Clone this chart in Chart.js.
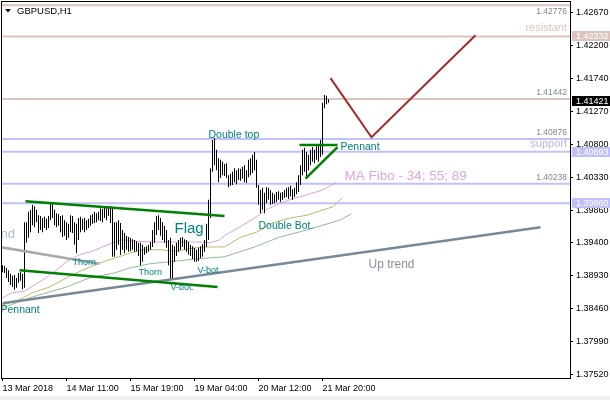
<!DOCTYPE html>
<html>
<head>
<meta charset="utf-8">
<script src="https://cdn.jsdelivr.net/npm/chart.js@4.4.1/dist/chart.umd.min.js"></script>
<style>
html, body { margin: 0; padding: 0; background: #f0f0f0; }
canvas { display: block; background: #fff; }
</style>
</head>
<body>
<canvas id="chart" width="610" height="396"></canvas>
<script>
// GBPUSD H1 bars, one per hour, high / low
const highs = [
  1.3908, 1.3907, 1.3904, 1.3901, 1.3896, 1.3893, 1.3894, 1.3890, 1.3897, 1.3898,
  1.3896, 1.3969, 1.3969, 1.3984, 1.3987, 1.3994, 1.3992, 1.3987, 1.3979, 1.3978,
  1.3975, 1.3977, 1.3974, 1.3978, 1.3995, 1.3996, 1.3987, 1.3982, 1.3981, 1.3978,
  1.3979, 1.3972, 1.3969, 1.3967, 1.3979, 1.3978, 1.3969, 1.3967, 1.3975, 1.3977,
  1.3974, 1.3975, 1.3972, 1.3974, 1.3979, 1.3981, 1.3984, 1.3982, 1.3984, 1.3989,
  1.3988, 1.3991, 1.3989, 1.3991, 1.3992, 1.3989, 1.3969, 1.3969, 1.3972, 1.3968,
  1.3958, 1.3954, 1.3950, 1.3948, 1.3947, 1.3945, 1.3944, 1.3942, 1.3940, 1.3940,
  1.3937, 1.3934, 1.3935, 1.3937, 1.3941, 1.3958, 1.3969, 1.3978, 1.3979, 1.3975,
  1.3969, 1.3964, 1.3958, 1.3944, 1.3947, 1.3937, 1.3935, 1.3940, 1.3944, 1.3947,
  1.3948, 1.3945, 1.3944, 1.3941, 1.3937, 1.3935, 1.3933, 1.3930, 1.3933, 1.3935,
  1.3938, 1.3944, 1.3967, 1.4001, 1.4046, 1.4086, 1.4089, 1.4072, 1.4060, 1.4058,
  1.4055, 1.4052, 1.4053, 1.4036, 1.4038, 1.4041, 1.4046, 1.4043, 1.4046, 1.4045,
  1.4048, 1.4050, 1.4043, 1.4058, 1.4060, 1.4065, 1.4069, 1.4058, 1.4022, 1.4015,
  1.4018, 1.4011, 1.4019, 1.4018, 1.4015, 1.4011, 1.4009, 1.4012, 1.4013, 1.4011,
  1.4012, 1.4015, 1.4018, 1.4019, 1.4021, 1.4016, 1.4018, 1.4026, 1.4036, 1.4050,
  1.4072, 1.4075, 1.4069, 1.4065, 1.4072, 1.4076, 1.4072, 1.4077, 1.4079, 1.4086,
  1.4139, 1.4150, 1.4149, 1.4144
];
const lows = [
  1.3898, 1.3897, 1.3890, 1.3884, 1.3880, 1.3877, 1.3873, 1.3876, 1.3883, 1.3886,
  1.3874, 1.3876, 1.3940, 1.3947, 1.3955, 1.3965, 1.3962, 1.3969, 1.3954, 1.3958,
  1.3955, 1.3961, 1.3958, 1.3961, 1.3972, 1.3975, 1.3965, 1.3962, 1.3964, 1.3955,
  1.3948, 1.3950, 1.3944, 1.3947, 1.3955, 1.3954, 1.3937, 1.3925, 1.3944, 1.3955,
  1.3958, 1.3955, 1.3958, 1.3961, 1.3964, 1.3967, 1.3968, 1.3969, 1.3972, 1.3971,
  1.3969, 1.3975, 1.3972, 1.3978, 1.3968, 1.3920, 1.3920, 1.3930, 1.3937, 1.3923,
  1.3930, 1.3925, 1.3930, 1.3927, 1.3928, 1.3930, 1.3927, 1.3928, 1.3921, 1.3908,
  1.3913, 1.3923, 1.3925, 1.3927, 1.3930, 1.3934, 1.3940, 1.3951, 1.3958, 1.3950,
  1.3944, 1.3940, 1.3933, 1.3908, 1.3887, 1.3888, 1.3913, 1.3921, 1.3927, 1.3930,
  1.3934, 1.3930, 1.3927, 1.3923, 1.3921, 1.3917, 1.3913, 1.3913, 1.3914, 1.3918,
  1.3920, 1.3927, 1.3934, 1.3944, 1.3975, 1.4041, 1.4050, 1.4043, 1.4026, 1.4032,
  1.4036, 1.4035, 1.4032, 1.4019, 1.4021, 1.4022, 1.4026, 1.4023, 1.4029, 1.4028,
  1.4031, 1.4026, 1.4025, 1.4033, 1.4036, 1.4039, 1.4043, 1.4018, 1.3994, 1.3982,
  1.3987, 1.3982, 1.3996, 1.4001, 1.3994, 1.3995, 1.3996, 1.3998, 1.4001, 1.3998,
  1.4001, 1.4004, 1.4005, 1.4002, 1.4006, 1.4001, 1.4005, 1.4009, 1.4012, 1.4022,
  1.4036, 1.4041, 1.4033, 1.4043, 1.4050, 1.4055, 1.4053, 1.4058, 1.4055, 1.4062,
  1.4065, 1.4131, 1.4137, 1.4139
];
const lastPrice = 1.41421;

// time axis
const xTickIdx = [0, 32, 64, 96, 128, 160];
const xTickLabels = ['13 Mar 2018', '14 Mar 11:00', '15 Mar 19:00', '19 Mar 04:00', '20 Mar 12:00', '21 Mar 20:00'];
const yTicks = [1.42670, 1.42200, 1.41740, 1.41270, 1.40800, 1.40330, 1.39860, 1.39400, 1.38930, 1.38460, 1.37990, 1.37520];

// MA Fibo 34 / 55 / 89
const ma34Idx = [-0.5, 5, 11, 20, 27, 32, 38.5, 45, 50, 56, 60, 67, 77, 87, 97, 103.5, 108.5, 111, 118.5, 127, 132, 137, 143.5, 152, 160, 167];
const ma34 = [1.3861, 1.3869, 1.3871, 1.3887, 1.3901, 1.3913, 1.3923, 1.3928, 1.3934, 1.3941, 1.3944, 1.3942, 1.3941, 1.3941, 1.3941, 1.3940, 1.3944, 1.3950, 1.3962, 1.3977, 1.3987, 1.3994, 1.4001, 1.4008, 1.4015, 1.4026];
const ma55Idx = [-0.5, 8.5, 15, 23.5, 32, 40, 48.5, 56, 63.5, 70, 78.5, 87, 97, 103.5, 111, 118.5, 127, 135, 143.5, 152, 165, 170];
const ma55 = [1.3851, 1.3859, 1.3869, 1.3877, 1.3890, 1.3901, 1.3911, 1.3918, 1.3925, 1.3930, 1.3930, 1.3928, 1.3933, 1.3934, 1.3934, 1.3947, 1.3955, 1.3968, 1.3975, 1.3979, 1.3991, 1.4004];
const ma89Idx = [-0.5, 15, 32, 43.5, 56, 63.5, 73.5, 87, 97, 111, 126, 138.5, 152, 168.5, 174.5];
const ma89 = [1.3847, 1.3863, 1.3877, 1.3890, 1.3897, 1.3904, 1.3910, 1.3914, 1.3917, 1.3920, 1.3934, 1.3948, 1.3958, 1.3972, 1.3981];

// horizontal levels
const levelValues = [1.42776, 1.42332, 1.41442, 1.40876, 1.40693, 1.40238, 1.39960];
const levelKinds = ['res', 'res', 'res', 'sup', 'sup', 'sup', 'sup'];
const levelLabels = ['1.42776', 'resistant', '1.41442', '1.40876', 'support', '1.40238', ''];
const axisMarks = [1.42332, 1.40693, 1.39960];

// drawn trend lines
const upTrendIdx = [0, 269];
const upTrend = [1.3854, 1.3962];
const oldTrendIdx = [-1.5, 48.5];
const oldTrend = [1.3934, 1.3910];
const flagTopIdx = [11.5, 111];
const flagTop = [1.3999, 1.3978];
const flagBotIdx = [8.5, 107.5];
const flagBot = [1.3901, 1.3877];
const pennTopIdx = [148.5, 167.5];
const pennTop = [1.4079, 1.4079];
const pennBotIdx = [151.5, 167.5];
const pennBot = [1.4031, 1.4076];
const forecastIdx = [164, 184.5, 236.5];
const forecast = [1.4174, 1.4090, 1.4235];

// text notes on the chart
const notes = [
  { text: 'Double top', i: 103, p: 1.4089, size: 10.5 },
  { text: 'Double Bot.', i: 128, p: 1.3960, size: 10.5 },
  { text: 'Thorn', i: 35, p: 1.3908, size: 9 },
  { text: 'Thorn', i: 68, p: 1.3894, size: 9 },
  { text: 'V-bot.', i: 84, p: 1.3873, size: 9 },
  { text: 'V-bot.', i: 97.5, p: 1.3897, size: 9 },
  { text: 'Flag', i: 86, p: 1.3954, size: 15 },
  { text: 'Pennant', i: 169, p: 1.4072, size: 10.5 },
  { text: 'Pennant', i: -1, p: 1.3840, size: 10.5 },
  { text: 'Up trend', i: 183, p: 1.3904, size: 12, color: '#8391a0' },
  { text: 'MA Fibo - 34; 55; 89', i: 171, p: 1.4029, size: 13.5, color: '#e0a6e0' },
  { text: 'nd', i: -1, p: 1.3947, size: 13, color: '#aab9dc' }
];

const RES = '#dcc4be';
const SUP = '#c0c0fc';
const FONT = '"Liberation Sans", Arial, sans-serif';

function pts(xs, ys) {
  return xs.map((x, k) => ({ x: x, y: ys[k] }));
}
function line(xs, ys, color, width, order) {
  return {
    type: 'line', data: pts(xs, ys), borderColor: color, borderWidth: width,
    pointRadius: 0, fill: false, tension: 0, order: order
  };
}

const datasets = [];
levelValues.forEach((v, k) => {
  datasets.push(line([-1, 290], [v, v], levelKinds[k] === 'res' ? RES : SUP, 2, 20));
});
datasets.push(line(ma89Idx, ma89, '#8fbc8f', 1, 15));
datasets.push(line(ma55Idx, ma55, '#bdb76b', 1, 14));
datasets.push(line(ma34Idx, ma34, '#dda0dd', 1, 13));
datasets.push({
  type: 'bar',
  data: highs.map((h, k) => ({ x: k, y: [lows[k], h] })),
  backgroundColor: '#000',
  borderWidth: 0,
  barThickness: 1,
  inflateAmount: 0,
  grouped: false,
  order: 10
});
datasets.push(line(oldTrendIdx, oldTrend, '#a9a9a9', 2.5, 5));
datasets.push(line(upTrendIdx, upTrend, '#778899', 2.5, 5));
datasets.push(line(flagTopIdx, flagTop, '#008000', 2.5, 4));
datasets.push(line(flagBotIdx, flagBot, '#008000', 2.5, 4));
datasets.push(line(pennTopIdx, pennTop, '#008000', 2.5, 4));
datasets.push(line(pennBotIdx, pennBot, '#008000', 2.5, 4));
datasets.push(line(forecastIdx, forecast, '#a52a2a', 2, 3));

const decorations = {
  id: 'decorations',
  afterDatasetsDraw(chart) {
    const ctx = chart.ctx;
    const a = chart.chartArea;
    const x = chart.scales.x;
    const y = chart.scales.y;
    ctx.save();
    // level captions
    ctx.textAlign = 'right';
    ctx.textBaseline = 'alphabetic';
    levelValues.forEach((v, k) => {
      const txt = levelLabels[k];
      if (!txt) return;
      const py = y.getPixelForValue(v);
      if (txt === v.toFixed(5)) {
        ctx.font = '8.5px ' + FONT;
        ctx.fillStyle = '#7d8893';
        const by = py - 12 < a.top ? py + 9 : py - 4;
        ctx.fillText(txt, a.right - 3, by);
      } else {
        ctx.font = '11px ' + FONT;
        ctx.fillStyle = levelKinds[k] === 'res' ? RES : '#b4b4f0';
        ctx.fillText(txt, a.right - 3, py - 5);
      }
    });
    // pattern notes
    ctx.textAlign = 'left';
    notes.forEach(n => {
      ctx.font = n.size + 'px ' + FONT;
      ctx.fillStyle = n.color || '#008080';
      ctx.fillText(n.text, x.getPixelForValue(n.i), y.getPixelForValue(n.p));
    });
    // frame
    ctx.strokeStyle = '#000';
    ctx.lineWidth = 1;
    ctx.strokeRect(a.left - 0.5, a.top - 0.5, a.right - a.left + 1, a.bottom - a.top + 1);
    ctx.restore();
  },
  afterDraw(chart) {
    const ctx = chart.ctx;
    const y = chart.scales.y;
    ctx.save();
    ctx.font = '9px ' + FONT;
    ctx.textAlign = 'left';
    ctx.textBaseline = 'middle';
    const box = (v, bg) => {
      const py = Math.round(y.getPixelForValue(v));
      ctx.fillStyle = bg;
      ctx.fillRect(y.left + 2, py - 5, chart.width - y.left - 2, 10);
      ctx.fillStyle = '#fff';
      ctx.fillText(v.toFixed(5), y.left + 6, py + 0.5);
    };
    axisMarks.forEach(v => box(v, levelValues.indexOf(v) < 3 ? RES : SUP));
    box(lastPrice, '#000');
    // symbol caption
    ctx.fillStyle = '#000';
    ctx.beginPath();
    ctx.moveTo(5, 9); ctx.lineTo(11, 9); ctx.lineTo(8, 12.5); ctx.closePath();
    ctx.fill();
    ctx.font = '9.5px ' + FONT;
    ctx.textBaseline = 'alphabetic';
    ctx.fillText('GBPUSD,H1', 17, 14);
    ctx.restore();
  }
};

new Chart(document.getElementById('chart'), {
  type: 'bar',
  data: { datasets: datasets },
  options: {
    responsive: false,
    animation: false,
    devicePixelRatio: 1,
    layout: { padding: { left: 2, top: 2, right: 0, bottom: 0 } },
    plugins: { legend: { display: false }, tooltip: { enabled: false } },
    scales: {
      x: {
        type: 'linear',
        min: -0.25,
        max: 283.75,
        offset: false,
        border: { display: false },
        grid: { display: true, offset: false, drawOnChartArea: false, drawTicks: true, tickLength: 3, color: '#000' },
        afterBuildTicks: s => { s.ticks = xTickIdx.map(v => ({ value: v })); },
        afterFit: s => { s.height = 18; s.paddingLeft = 0; s.paddingRight = 0; },
        ticks: {
          autoSkip: false,
          maxRotation: 0,
          align: 'start',
          padding: 2,
          color: '#000',
          font: { family: FONT, size: 9 },
          callback: (v, k) => xTickLabels[k]
        }
      },
      y: {
        type: 'linear',
        position: 'right',
        min: 1.37477,
        max: 1.42822,
        beginAtZero: false,
        border: { display: false },
        grid: { display: true, drawOnChartArea: false, drawTicks: true, tickLength: 3, color: '#000' },
        afterBuildTicks: s => { s.ticks = yTicks.map(v => ({ value: v })); },
        afterFit: s => { s.width = 40; s.paddingTop = 0; s.paddingBottom = 0; },
        ticks: {
          autoSkip: false,
          padding: 3,
          color: '#000',
          font: { family: FONT, size: 9 },
          callback: v => v.toFixed(5)
        }
      }
    }
  },
  plugins: [decorations]
});
</script>
</body>
</html>
